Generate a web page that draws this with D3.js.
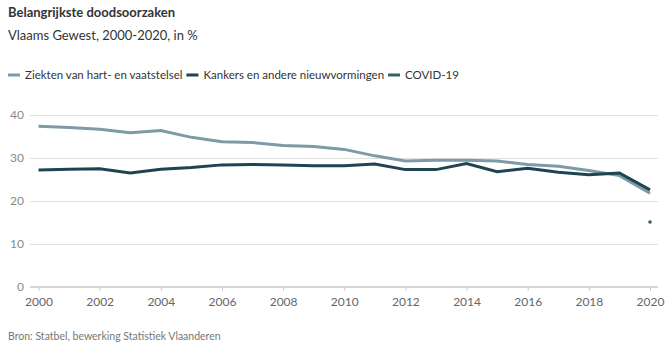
<!DOCTYPE html>
<html>
<head>
<meta charset="utf-8">
<script src="https://cdn.jsdelivr.net/npm/d3@7"></script>
<style>
  body { margin: 0; background: #fff; font-family: Lato, "Open Sans", sans-serif; }
  svg text { font-family: Lato, "Open Sans", sans-serif; }
</style>
</head>
<body>
<div id="container"></div>
<script>
/* DATA */
const years = d3.range(2000, 2021)
const hartVaten = [37.4, 37.1, 36.7, 35.9, 36.4, 34.8, 33.8, 33.6, 32.9, 32.7, 32.0, 30.5, 29.3, 29.5, 29.5, 29.3, 28.5, 28.1, 27.1, 25.9, 21.8]
const kankers = [27.2, 27.4, 27.5, 26.5, 27.4, 27.8, 28.4, 28.5, 28.4, 28.2, 28.2, 28.6, 27.3, 27.3, 28.7, 26.8, 27.6, 26.7, 26.1, 26.5, 22.6]
const covidYears = [2020]
const covid = [15.1]
const yTicks = [0, 10, 20, 30, 40]
const xTicks = d3.range(2000, 2021, 2)

const seriesNames = ["Ziekten van hart- en vaatstelsel", "Kankers en andere nieuwvormingen", "COVID-19"]
const colors = ["#7d9ba7", "#1e4452", "#36606e"]

/* CONSTANTS */
const width = 672
const height = 350
const margin = { top: 115, bottom: 63, left: 38.5, right: 22 }

const svg = d3.select("#container")
  .append("svg")
  .attr("width", width)
  .attr("height", height)

/* SCALES */
const xScale = d3.scaleLinear()
  .domain([2000, 2020])
  .range([margin.left, width - margin.right])

const yScale = d3.scaleLinear()
  .domain([0, 40])
  .range([height - margin.bottom, margin.top])

/* TITLES */
svg.append("text")
  .attr("x", 8).attr("y", 17)
  .attr("font-size", 13).attr("font-weight", "bold").attr("fill", "#333")
  .text("Belangrijkste doodsoorzaken")

svg.append("text")
  .attr("x", 8).attr("y", 40)
  .attr("font-size", 13).attr("fill", "#333")
  .text("Vlaams Gewest, 2000-2020, in %")

/* LEGEND */
// each item placed after the previous one
const legend = svg.append("g").attr("transform", "translate(8,79)")
let lx = 0
seriesNames.forEach((name, i) => {
  const g = legend.append("g").attr("transform", `translate(${lx},0)`)
  g.append("line")
    .attr("x1", 0).attr("x2", 12)
    .attr("y1", -4).attr("y2", -4)
    .attr("stroke", colors[i])
    .attr("stroke-width", 3)
  const t = g.append("text")
    .attr("x", 17).attr("y", 0)
    .attr("font-size", 11.5).attr("fill", "#333")
    .text(name)
  lx += 17 + t.node().getComputedTextLength() + 4
})

/* GRID + Y AXIS */
const yAxis = d3.axisLeft(yScale)
  .tickValues(yTicks)
  .tickSize(-(width - margin.right + 8 - 30))
  .tickPadding(6)

svg.append("g")
  .attr("transform", `translate(30,0)`)
  .call(yAxis)
  .call(g => g.select(".domain").remove())
  .call(g => g.selectAll(".tick line").attr("stroke", "#e0e0e0").attr("stroke-width", 1))
  .call(g => g.selectAll(".tick text").attr("font-size", 12).attr("fill", "#8a8a8a"))

/* X AXIS */
const xAxis = d3.axisBottom(xScale)
  .tickValues(xTicks)
  .tickFormat(d3.format("d"))
  .tickSize(4)
  .tickPadding(6)

svg.append("g")
  .attr("transform", `translate(0,${height - margin.bottom})`)
  .call(xAxis)
  .call(g => g.select(".domain").remove())
  .call(g => g.selectAll(".tick line").attr("stroke", "#cccccc"))
  .call(g => g.selectAll(".tick text").attr("font-size", 12).attr("fill", "#666"))

svg.append("line")
  .attr("x1", 30).attr("x2", width - margin.right + 8)
  .attr("y1", yScale(0)).attr("y2", yScale(0))
  .attr("stroke", "#d6d6d6").attr("stroke-width", 2)

/* LINES */
const line = d3.line()
  .x((d, i) => xScale(years[i]))
  .y(d => yScale(d))

svg.append("path")
  .datum(hartVaten)
  .attr("fill", "none")
  .attr("stroke", colors[0])
  .attr("stroke-width", 3)
  .attr("d", line)

svg.append("path")
  .datum(kankers)
  .attr("fill", "none")
  .attr("stroke", colors[1])
  .attr("stroke-width", 3)
  .attr("d", line)

svg.selectAll(".covid")
  .data(covid)
  .join("circle")
  .attr("class", "covid")
  .attr("cx", (d, i) => xScale(covidYears[i]))
  .attr("cy", d => yScale(d))
  .attr("r", 1.8)
  .attr("fill", colors[2])

/* SOURCE */
svg.append("text")
  .attr("x", 8).attr("y", 340)
  .attr("font-size", 10.5).attr("fill", "#777")
  .text("Bron: Statbel, bewerking Statistiek Vlaanderen")
</script>
</body>
</html>
